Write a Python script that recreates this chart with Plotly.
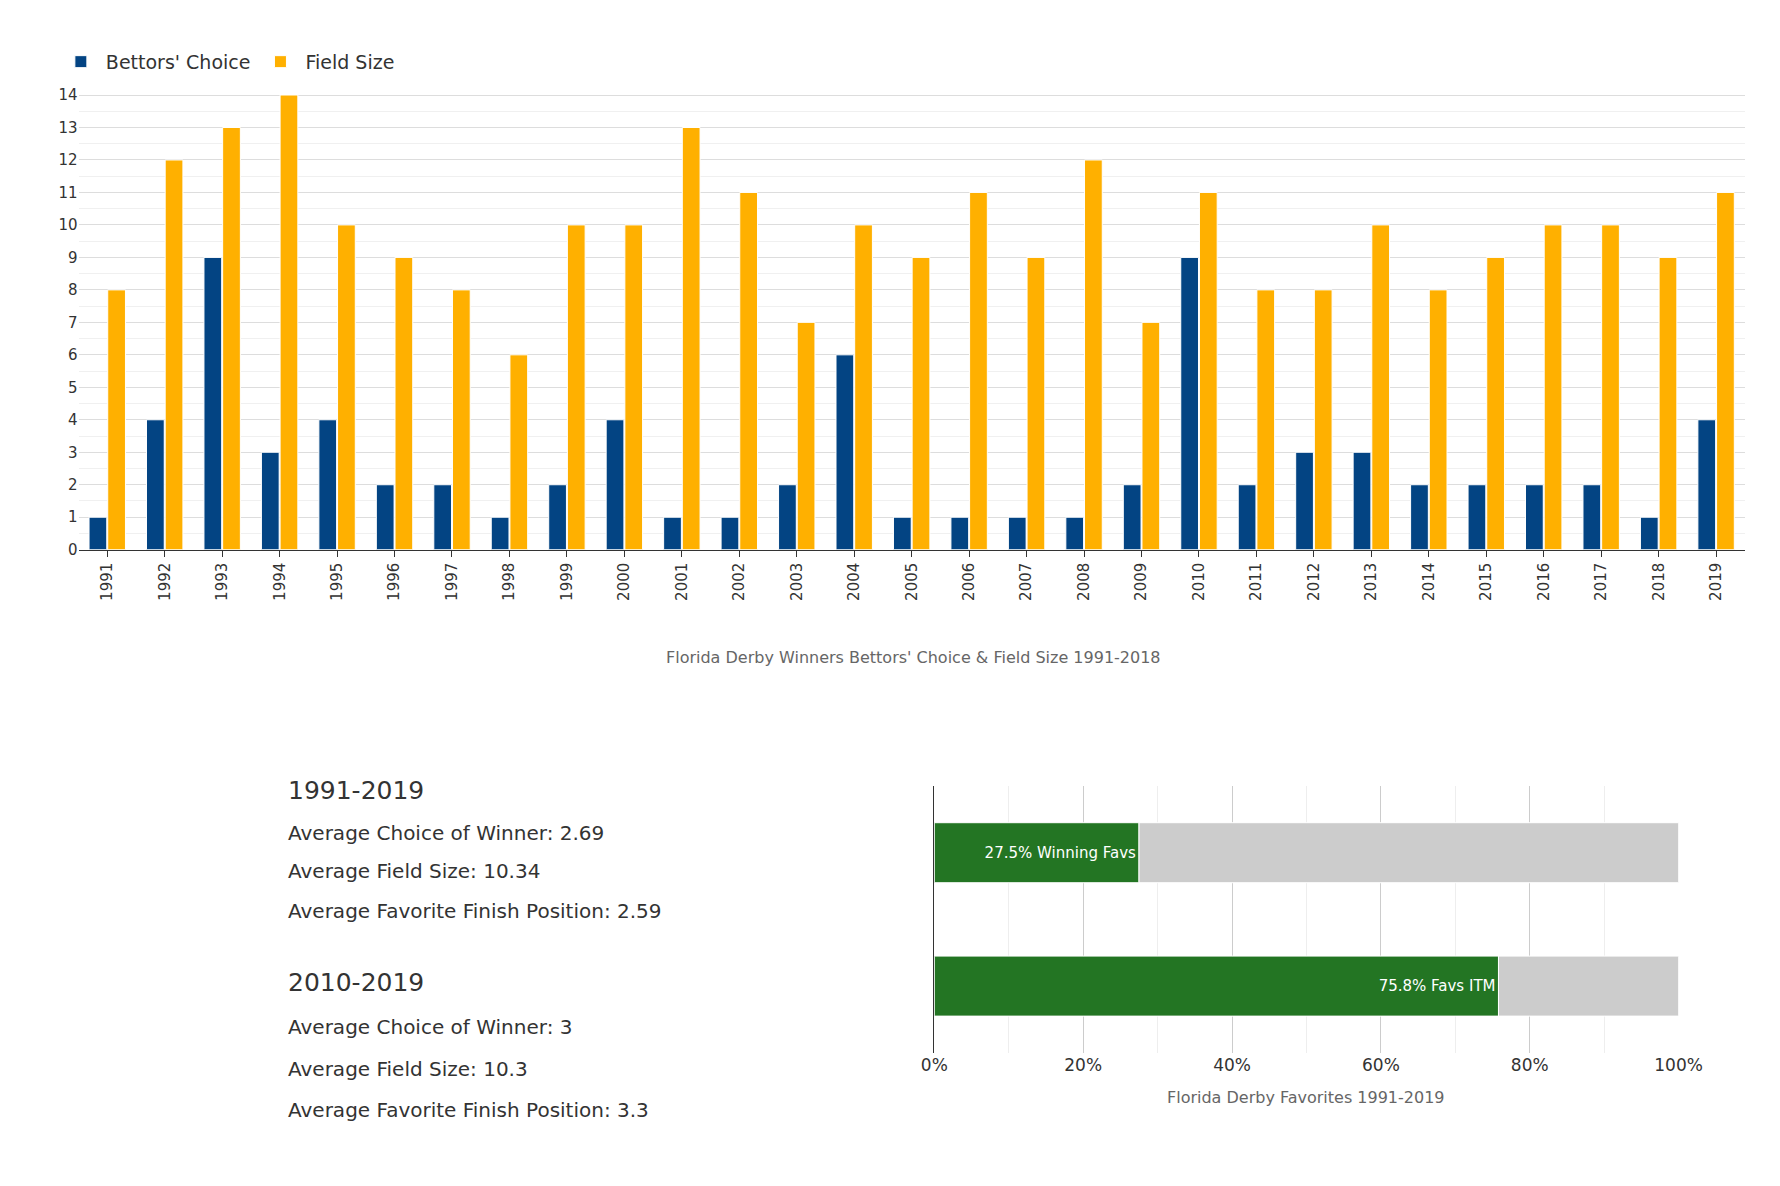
import plotly.graph_objects as go

years = [str(y) for y in range(1991, 2020)]
bettors_choice = [1, 4, 9, 3, 4, 2, 2, 1, 2, 4, 1, 1, 2, 6, 1, 1, 1, 1, 2, 9, 2, 3, 3, 2, 2, 2, 2, 1, 4]
field_size = [8, 12, 13, 14, 10, 9, 8, 6, 10, 10, 13, 11, 7, 10, 9, 11, 9, 12, 7, 11, 8, 8, 10, 8, 9, 10, 10, 9, 11]

fav_labels = ["Winning Favs", "Favs ITM"]
fav_pct = [27.5, 75.8]

stats_all = ["Average Choice of Winner: 2.69", "Average Field Size: 10.34",
             "Average Favorite Finish Position: 2.59"]
stats_recent = ["Average Choice of Winner: 3", "Average Field Size: 10.3",
                "Average Favorite Finish Position: 3.3"]

FONT = "DejaVu Sans"
fig = go.Figure()

fig.add_trace(go.Bar(x=years, y=bettors_choice, name="Bettors' Choice",
                     marker=dict(color="#034483", line=dict(color="white", width=1)),
                     xaxis="x", yaxis="y"))
fig.add_trace(go.Bar(x=years, y=field_size, name="Field Size",
                     marker=dict(color="#ffb000", line=dict(color="white", width=1)),
                     xaxis="x", yaxis="y"))

# favourites: green part + grey remainder (same offsetgroup, grey starts where green ends)
fig.add_trace(go.Bar(y=fav_labels, x=fav_pct, orientation="h", showlegend=False,
                     offsetgroup="fav",
                     marker=dict(color="#237523", line=dict(color="white", width=1)),
                     text=[f"{v}% {l}" for v, l in zip(fav_pct, fav_labels)],
                     textposition="inside", insidetextanchor="end",
                     textfont=dict(color="white", size=15, family=FONT),
                     width=0.45, xaxis="x2", yaxis="y2"))
fig.add_trace(go.Bar(y=fav_labels, x=[100 - v for v in fav_pct], base=fav_pct,
                     orientation="h", offsetgroup="fav", showlegend=False,
                     marker=dict(color="#cccccc", line=dict(color="white", width=1)),
                     width=0.45, xaxis="x2", yaxis="y2"))

annotations = [
    dict(text="Florida Derby Winners Bettors' Choice & Field Size 1991-2018",
         x=0.512, y=0.451, xref="paper", yref="paper", showarrow=False,
         font=dict(size=16, color="#666")),
    dict(text="Florida Derby Favorites 1991-2019", x=50, y=0.065, xref="x2", yref="paper",
         showarrow=False, font=dict(size=16, color="#666")),
]
for header, lines, y0, ys in [("1991-2019", stats_all, 0.323, [0.289, 0.256, 0.222]),
                              ("2010-2019", stats_recent, 0.159, [0.123, 0.0875, 0.052])]:
    annotations.append(dict(text=header, x=0.152, y=y0, xref="paper", yref="paper",
                            xanchor="left", showarrow=False, font=dict(size=25, color="#333")))
    for t, yy in zip(lines, ys):
        annotations.append(dict(text=t, x=0.152, y=yy, xref="paper", yref="paper",
                                xanchor="left", showarrow=False, font=dict(size=20, color="#333")))

fig.update_layout(
    width=1780, height=1186,
    margin=dict(l=0, r=0, t=0, b=0),
    plot_bgcolor="white", paper_bgcolor="white",
    font=dict(family=FONT, size=15, color="#333"),
    barmode="group", bargap=0.35, bargroupgap=0.05,
    legend=dict(orientation="h", x=0.02, y=0.96, xanchor="left", yanchor="middle",
                font=dict(size=19), itemwidth=40),
    xaxis=dict(domain=[0.033, 0.989], anchor="y", tickangle=-90, showgrid=False,
               linecolor="#333", ticks="outside", ticklen=6, tickcolor="#333"),
    yaxis=dict(domain=[0.543, 0.933], range=[0, 14.05], dtick=1, gridcolor="#dddddd",
               minor=dict(dtick=0.5, showgrid=True, gridcolor="#f0f0f0"),
               zeroline=False, fixedrange=True),
    xaxis2=dict(domain=[0.524, 0.951], anchor="y2", range=[0, 100], dtick=20,
                ticksuffix="%", gridcolor="#cccccc", tickfont=dict(size=17),
                minor=dict(dtick=10, showgrid=True, gridcolor="#eeeeee"), zeroline=False),
    yaxis2=dict(domain=[0.113, 0.341], anchor="x2", autorange="reversed",
                showticklabels=False, showline=True, linecolor="#333", showgrid=False),
    annotations=annotations,
)
fig.write_html("out.html")
